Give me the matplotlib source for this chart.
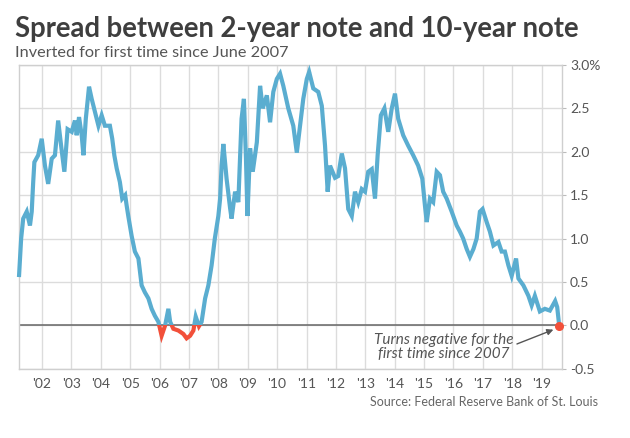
import matplotlib
matplotlib.use("Agg")
import matplotlib.pyplot as plt
from matplotlib.patches import Rectangle
import numpy as np

plt.rcParams['font.family'] = ['Lato', 'DejaVu Sans']

# Time (decimal years) and spread values (percentage points)
years = [2001.22, 2001.29, 2001.36, 2001.48, 2001.59, 2001.65, 2001.70, 2001.74, 2001.87, 2001.99,
         2002.10, 2002.21, 2002.33, 2002.44, 2002.55, 2002.65, 2002.76, 2002.87,
         2003.01, 2003.12, 2003.18, 2003.26, 2003.35, 2003.41, 2003.49, 2003.60, 2003.69, 2003.80, 2003.92,
         2004.03, 2004.14, 2004.31, 2004.39, 2004.46, 2004.54, 2004.65, 2004.73, 2004.83, 2004.88, 2004.94,
         2005.05, 2005.16, 2005.28, 2005.39, 2005.50, 2005.62, 2005.73, 2005.84, 2005.96,
         2006.07, 2006.19, 2006.30, 2006.36, 2006.47, 2006.64, 2006.81, 2006.92,
         2007.04, 2007.15, 2007.23, 2007.34, 2007.43, 2007.55, 2007.66, 2007.77, 2007.88,
         2008.00, 2008.06, 2008.11, 2008.17, 2008.28, 2008.40, 2008.45, 2008.57, 2008.68, 2008.79, 2008.87, 2008.94, 2008.99,
         2009.08, 2009.17, 2009.31, 2009.42, 2009.51, 2009.65, 2009.76, 2009.87, 2009.99,
         2010.10, 2010.21, 2010.38, 2010.55, 2010.67, 2010.78, 2010.89,
         2011.01, 2011.09, 2011.23, 2011.40, 2011.52, 2011.63, 2011.72, 2011.80, 2011.97,
         2012.08, 2012.20, 2012.31, 2012.42, 2012.54, 2012.65, 2012.76, 2012.88, 2012.99,
         2013.10, 2013.22, 2013.33, 2013.42, 2013.53, 2013.65, 2013.78, 2013.90,
         2014.01, 2014.12, 2014.29, 2014.46, 2014.63, 2014.80, 2014.94,
         2015.03, 2015.09, 2015.20, 2015.31, 2015.43, 2015.54, 2015.65, 2015.77, 2015.94,
         2016.11, 2016.22, 2016.33, 2016.45, 2016.56, 2016.68, 2016.79, 2016.90, 2016.99,
         2017.13, 2017.24, 2017.36, 2017.53, 2017.64, 2017.75, 2017.87, 2017.98,
         2018.13, 2018.21, 2018.38, 2018.55, 2018.66, 2018.77, 2018.94,
         2019.11, 2019.28, 2019.46, 2019.53, 2019.60]
spread = [0.58, 1.00, 1.23, 1.31, 1.15, 1.31, 1.65, 1.88, 1.96, 2.15,
          1.84, 1.63, 1.92, 1.96, 2.36, 2.07, 1.77, 2.26,
          2.23, 2.36, 2.19, 2.40, 2.19, 1.96, 2.38, 2.75, 2.61, 2.46, 2.30,
          2.42, 2.30, 2.30, 2.15, 1.96, 1.81, 1.65, 1.46, 1.50, 1.38, 1.25,
          1.03, 0.85, 0.77, 0.46, 0.38, 0.31, 0.19, 0.11, 0.04,
          -0.12, 0.00, 0.19, 0.04, -0.04, -0.06, -0.10, -0.15,
          -0.12, -0.06, 0.10, -0.01, 0.04, 0.31, 0.46, 0.69, 1.00,
          1.26, 1.46, 1.84, 2.09, 1.69, 1.35, 1.23, 1.54, 1.42, 2.38, 2.61, 1.92, 1.26,
          2.04, 1.77, 2.11, 2.76, 2.50, 2.65, 2.34, 2.69, 2.84,
          2.90, 2.76, 2.50, 2.30, 1.99, 2.30, 2.61,
          2.84, 2.92, 2.73, 2.69, 2.53, 2.07, 1.54, 1.84, 1.70,
          1.72, 1.98, 1.81, 1.34, 1.26, 1.54, 1.42, 1.57, 1.54,
          1.77, 1.80, 1.46, 1.96, 2.42, 2.50, 2.23, 2.50,
          2.67, 2.38, 2.19, 2.07, 1.96, 1.84, 1.69,
          1.38, 1.19, 1.46, 1.42, 1.77, 1.73, 1.54, 1.46, 1.31,
          1.15, 1.08, 1.00, 0.88, 0.79, 0.88, 1.00, 1.31, 1.34,
          1.19, 1.08, 0.92, 0.96, 0.85, 0.85, 0.69, 0.57,
          0.77, 0.54, 0.46, 0.34, 0.23, 0.34, 0.16,
          0.19, 0.17, 0.28, 0.21, -0.01]

tick_years = list(range(2002, 2020))
tick_labels = ["'%02d" % (y % 100) for y in tick_years]
y_ticks = [-0.5, 0.0, 0.5, 1.0, 1.5, 2.0, 2.5, 3.0]
y_labels = ['-0.5', '0.0', '0.5', '1.0', '1.5', '2.0', '2.5', '3.0%']

title = 'Spread between 2-year note and 10-year note'
subtitle = 'Inverted for first time since June 2007'
note = 'Turns negative for the\nfirst time since 2007'
source = 'Source: Federal Reserve Bank of St. Louis'

BLUE = '#5AADD0'
RED = '#F2503A'
GRID = '#DCDCDC'
TXT = '#555555'

fig = plt.figure(figsize=(6.30, 4.38), dpi=100)
ax = fig.add_axes([19/630, 1 - 368.7/438, (561.7 - 19)/630, (368.7 - 65)/438])

x0, x1 = 2001.217, 2019.683
ax.set_xlim(x0, x1)
ax.set_ylim(-0.5, 3.0)

ax.set_xticks(tick_years)
ax.set_xticklabels(tick_labels)
ax.set_yticks(y_ticks)
ax.set_yticklabels(y_labels)
ax.yaxis.tick_right()
ax.grid(True, color=GRID, lw=1.0)
ax.set_axisbelow(True)
for s in ax.spines.values():
    s.set_color('#CFCFCF')
    s.set_linewidth(1.0)
ax.tick_params(axis='x', length=0, pad=7, labelsize=10, labelcolor=TXT)
ax.tick_params(axis='y', length=3, width=0.8, color='#BBBBBB', pad=3, labelsize=10, labelcolor=TXT)

ax.axhline(0, color='#666666', lw=1.1, zorder=2)

lb, = ax.plot(years, spread, color=BLUE, lw=3.0, solid_joinstyle='miter', zorder=3)
lr, = ax.plot(years, spread, color=RED, lw=3.0, solid_joinstyle='miter', zorder=3)
lb.set_clip_path(Rectangle((x0 - 1, 0), 30, 10, transform=ax.transData))
lr.set_clip_path(Rectangle((x0 - 1, -10), 30, 10, transform=ax.transData))

ax.plot([years[-1]], [spread[-1]], 'o', color=RED, ms=5.5, zorder=5, clip_on=False)

ax.text(2015.68, -0.255, note, ha='center', va='center', fontsize=11, style='italic',
        color=TXT, linespacing=1.0)
ax.annotate('', xy=(2019.40, -0.05), xytext=(2018.16, -0.215),
            arrowprops=dict(arrowstyle='-|>', color='#555555', lw=1.0, mutation_scale=9,
                            shrinkA=0, shrinkB=0))

fig.text(15/630, 1 - 29/438, title, ha='left', va='center', fontsize=19.8, fontweight='bold', color='#3E3E3E')
fig.text(15/630, 1 - 53/438, subtitle, ha='left', va='center', fontsize=11.7, color=TXT)
fig.text(598/630, 1 - 402/438, source, ha='right', va='center', fontsize=9, color='#666666')

fig.savefig('out.png', dpi=100)
